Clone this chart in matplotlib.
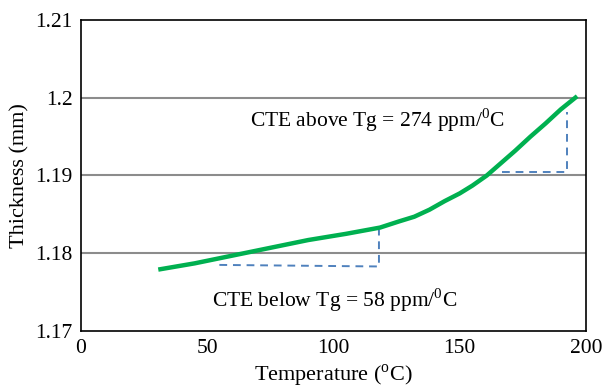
import matplotlib
matplotlib.use('Agg')
import matplotlib.pyplot as plt

plt.rcParams['font.family'] = ['Liberation Serif', 'DejaVu Serif']
plt.rcParams['mathtext.fontset'] = 'custom'
plt.rcParams['mathtext.rm'] = 'Liberation Serif'

# 곡선 데이터
temperature = [30.6, 45, 60, 75, 90, 105, 118.4, 126, 132, 138, 144, 150, 155,
               160.7, 166, 172, 178, 184, 190, 196.5]
thickness = [1.1779, 1.1787, 1.1797, 1.1807, 1.1817, 1.1825, 1.1833, 1.1841, 1.1847,
             1.1856, 1.1867, 1.1877, 1.1887, 1.1900, 1.1915, 1.1932, 1.1950, 1.1967,
             1.1985, 1.2002]

# CTE 보조선 (점선 삼각형)
below_x = [54.8, 118.0, 118.0]
below_y = [1.1785, 1.1783, 1.1830]
above_x = [166.7, 192.4, 192.4]
above_y = [1.1904, 1.1904, 1.1982]

x_ticks = [0, 50, 100, 150, 200]
y_ticks = [1.17, 1.18, 1.19, 1.2, 1.21]
y_tick_labels = ['1.17', '1.18', '1.19', '1.2', '1.21']

fig = plt.figure(figsize=(6.12, 3.92), dpi=100)
ax = fig.add_axes([81 / 612, 1 - 331 / 392, 505 / 612, 311 / 392])

for yv in [1.18, 1.19, 1.2]:
    ax.axhline(yv, color='#8c8c8c', lw=1.5, zorder=1)

ax.plot(below_x, below_y, color='#4f81bd', lw=1.4, ls=(0, (4, 3)), zorder=2)
ax.plot(above_x, above_y, color='#4f81bd', lw=1.4, ls=(0, (4, 3)), zorder=2)
ax.plot(temperature, thickness, color='#00b050', lw=3.2, zorder=3,
        solid_capstyle='butt')

ax.text(67, 1.1971, 'CTE above Tg = 274 ppm/$^{0}$C', fontsize=15.5, va='center')
ax.text(51.8, 1.1740, 'CTE below Tg = 58 ppm/$^{0}$C', fontsize=15.5, va='center')

ax.set_xlim(0, 200)
ax.set_ylim(1.17, 1.21)
ax.set_xticks(x_ticks)
ax.set_yticks(y_ticks)
ax.set_yticklabels(y_tick_labels)
ax.tick_params(length=0, labelsize=15.5)
ax.tick_params(axis='y', pad=6)
ax.tick_params(axis='x', pad=6)
for s in ax.spines.values():
    s.set_linewidth(1.2)
    s.set_color('black')

ax.set_xlabel('Temperature ($^{\\mathrm{o}}$C)', fontsize=16, labelpad=3)
ax.set_ylabel('Thickness (mm)', fontsize=16, labelpad=4)

fig.savefig('out.png', dpi=100)
